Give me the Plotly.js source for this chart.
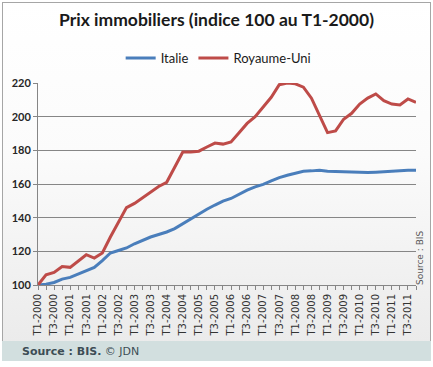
<!DOCTYPE html>
<html>
<head>
<meta charset="utf-8">
<script src="https://cdn.plot.ly/plotly-3.0.1.min.js"></script>
<style>
  html, body { margin: 0; padding: 0; background: #ffffff; }
  #wrap { position: relative; width: 433px; height: 367px; overflow: hidden; }
  #bg { position: absolute; left: 2px; top: 2px; width: 427px; height: 338px;
        border: 1px solid #a6a6a6;
        background: linear-gradient(to bottom, #ffffff 0%, #fbfbfb 45%, #ebebeb 100%); }
  #foot { position: absolute; left: 2px; top: 341px; width: 429px; height: 20px; background: #d2dfdf; }
  #chart { position: absolute; left: 0; top: 0; width: 433px; height: 367px; }
</style>
</head>
<body>
<div id="wrap">
  <div id="bg"></div>
  <div id="foot"></div>
  <div id="chart"></div>
</div>
<script>
// Quarters T1-2000 .. T4-2011
const quarters = [
  "T1-2000","T2-2000","T3-2000","T4-2000",
  "T1-2001","T2-2001","T3-2001","T4-2001",
  "T1-2002","T2-2002","T3-2002","T4-2002",
  "T1-2003","T2-2003","T3-2003","T4-2003",
  "T1-2004","T2-2004","T3-2004","T4-2004",
  "T1-2005","T2-2005","T3-2005","T4-2005",
  "T1-2006","T2-2006","T3-2006","T4-2006",
  "T1-2007","T2-2007","T3-2007","T4-2007",
  "T1-2008","T2-2008","T3-2008","T4-2008",
  "T1-2009","T2-2009","T3-2009","T4-2009",
  "T1-2010","T2-2010","T3-2010","T4-2010",
  "T1-2011","T2-2011","T3-2011","T4-2011"
];
const tickLabels = quarters.filter(function(q){ return q.indexOf("T1") === 0 || q.indexOf("T3") === 0; });

const italie = [
  100, 100.5, 101.5, 103.5, 104.5, 106.5, 108.5, 110.5,
  114.5, 119, 120.5, 122, 124.5, 126.5, 128.5, 130,
  131.5, 133.5, 136.5, 139.5, 142, 145, 147.5, 149.8,
  151.4, 154, 156.3, 158.3, 159.8, 161.8, 163.8, 165.2,
  166.6, 167.6, 167.8, 168.2, 167.6, 167.4, 167, 166.8,
  166.8, 166.8, 167, 167.4, 167.6, 168, 168.2, 168.2
];
const royaumeUni = [
  100, 106, 107.5, 111, 110.5, 114.5, 118, 116,
  119, 128.5, 137.5, 146, 148.5, 152, 155.5, 158.5,
  161, 170, 179, 179, 179.5, 182, 184.3, 183.7,
  185, 190.5, 196, 200, 205.5, 211.5, 219, 220,
  219.5, 217.5, 211, 201, 190.5, 191.5, 198.5, 202,
  207.5, 211, 213.5, 209.5, 207.5, 207, 210.5, 208.5
];
const yTicks = [100, 120, 140, 160, 180, 200, 220];

const data = [
  { type: "scatter", mode: "lines", name: "Italie", x: quarters, y: italie,
    line: { color: "#4a7ebb", width: 3 } },
  { type: "scatter", mode: "lines", name: "Royaume-Uni", x: quarters, y: royaumeUni,
    line: { color: "#be4b48", width: 3 } }
];

const layout = {
  width: 433, height: 367,
  paper_bgcolor: "rgba(0,0,0,0)",
  plot_bgcolor: "rgba(0,0,0,0)",
  margin: { l: 38, r: 17, t: 83, b: 82, pad: 0 },
  title: {
    text: "Prix immobiliers (indice 100 au T1-2000)",
    font: { family: "Lato, 'Open Sans', sans-serif", size: 17.5, color: "#1a1a1a", weight: "bold" },
    xref: "container", x: 0.5, xanchor: "center",
    yref: "container", y: 1 - 20 / 367, yanchor: "middle"
  },
  showlegend: true,
  legend: {
    orientation: "h",
    xref: "container", x: 0.505, xanchor: "center",
    yref: "container", y: 1 - 58 / 367, yanchor: "middle",
    font: { family: "Lato, sans-serif", size: 13, color: "#1a1a1a" },
    bgcolor: "rgba(0,0,0,0)",
    itemwidth: 30,
    tracegroupgap: 0
  },
  xaxis: {
    type: "category",
    range: [0, quarters.length - 1],
    tickmode: "array",
    tickvals: tickLabels,
    ticktext: tickLabels,
    tickangle: -90,
    ticks: "outside", ticklen: 4, tickcolor: "#868686", tickwidth: 1,
    minor: { ticks: "outside", ticklen: 4, tickcolor: "#868686", dtick: 1, showgrid: false },
    showline: true, linecolor: "#868686", linewidth: 1,
    showgrid: false, zeroline: false,
    tickfont: { family: "'DejaVu Sans', Verdana, sans-serif", size: 10, color: "#333333" },
    fixedrange: true
  },
  yaxis: {
    range: [100, 220],
    tickmode: "array", tickvals: yTicks,
    ticks: "outside", ticklen: 4, tickcolor: "#868686",
    showline: true, linecolor: "#868686", linewidth: 1,
    showgrid: true, gridcolor: "#868686", gridwidth: 1,
    zeroline: false,
    tickfont: { family: "Lato, sans-serif", size: 11, color: "#262626", weight: "bold" },
    fixedrange: true
  },
  annotations: [
    { text: "Source : BIS", xref: "paper", yref: "paper",
      x: (420 - 38) / 378, y: (285 - 258) / 202, textangle: -90,
      showarrow: false, xanchor: "center", yanchor: "middle",
      font: { family: "'DejaVu Sans', Verdana, sans-serif", size: 9, color: "#595959" } },
    { text: "<b>Source : BIS.</b> © JDN", xref: "paper", yref: "paper",
      x: (20 - 38) / 378, y: (285 - 351.5) / 202, xanchor: "left", yanchor: "middle",
      showarrow: false, align: "left",
      font: { family: "'DejaVu Sans', Verdana, sans-serif", size: 11, color: "#3d4d55" } }
  ]
};

Plotly.newPlot("chart", data, layout, { displayModeBar: false, staticPlot: true });
</script>
</body>
</html>
